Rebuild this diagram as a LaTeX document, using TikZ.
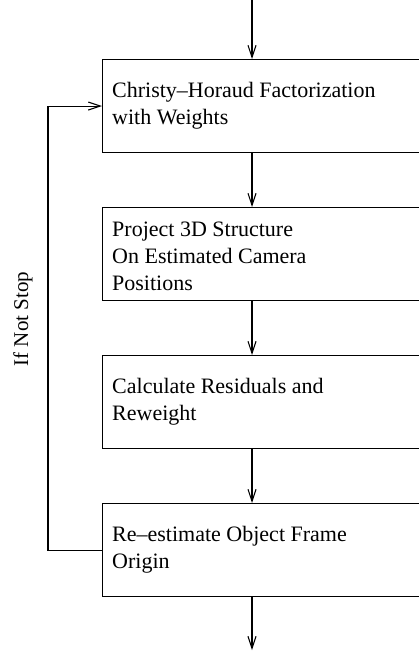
\documentclass[tikz,border=0pt]{standalone}
\usepackage{fontspec}
\setmainfont{Liberation Serif}
\usetikzlibrary{arrows.meta}
\begin{document}
\begin{tikzpicture}[x=1pt,y=-1pt,
  line/.style={draw=black,line width=1.1pt},
  arr/.style={line,-{Straight Barb[length=12pt,width=8pt,line width=1.1pt]}},
  stepbox/.style={line,rectangle,anchor=north west,minimum width=340pt,minimum height=93pt,inner sep=0pt},
  boxtext/.style={anchor=base west,inner sep=0pt,align=left,font=\fontsize{22}{27}\selectfont},
  lbl/.style={anchor=base,rotate=90,inner sep=0pt,font=\fontsize{21}{25}\selectfont}]
\useasboundingbox (0,0) rectangle (419,651);
\clip (0,0) rectangle (419,651);
\node[stepbox] (b1) at (102,59) {};
\node[stepbox] (b2) at (102,207) {};
\node[stepbox] (b3) at (102,355) {};
\node[stepbox] (b4) at (102,503) {};
% base anchor of a multi-line node sits on its last line
\node[boxtext] (t1) at (112,124) {Christy–Horaud Factorization\\with Weights};
\node[boxtext] (t2) at (112,290) {Project 3D Structure\\On Estimated Camera\\Positions};
\node[boxtext] (t3) at (112,420) {Calculate Residuals and\\Reweight};
\node[boxtext] (t4) at (112,568) {Re–estimate Object Frame\\Origin};
\coordinate (top) at (252,0);
\coordinate (bot) at (252,650);
\draw[arr] (top) -- (top |- b1.north);
\draw[arr] (top |- b1.south) -- (top |- b2.north);
\draw[arr] (top |- b2.south) -- (top |- b3.north);
\draw[arr] (top |- b3.south) -- (top |- b4.north);
\draw[arr] (top |- b4.south) -- (bot);
\draw[arr] (b4.west) -- ++(-54,0) |- (b1.west);
\node[lbl] (lab) at (28,319) {If Not Stop};
\end{tikzpicture}
\end{document}
